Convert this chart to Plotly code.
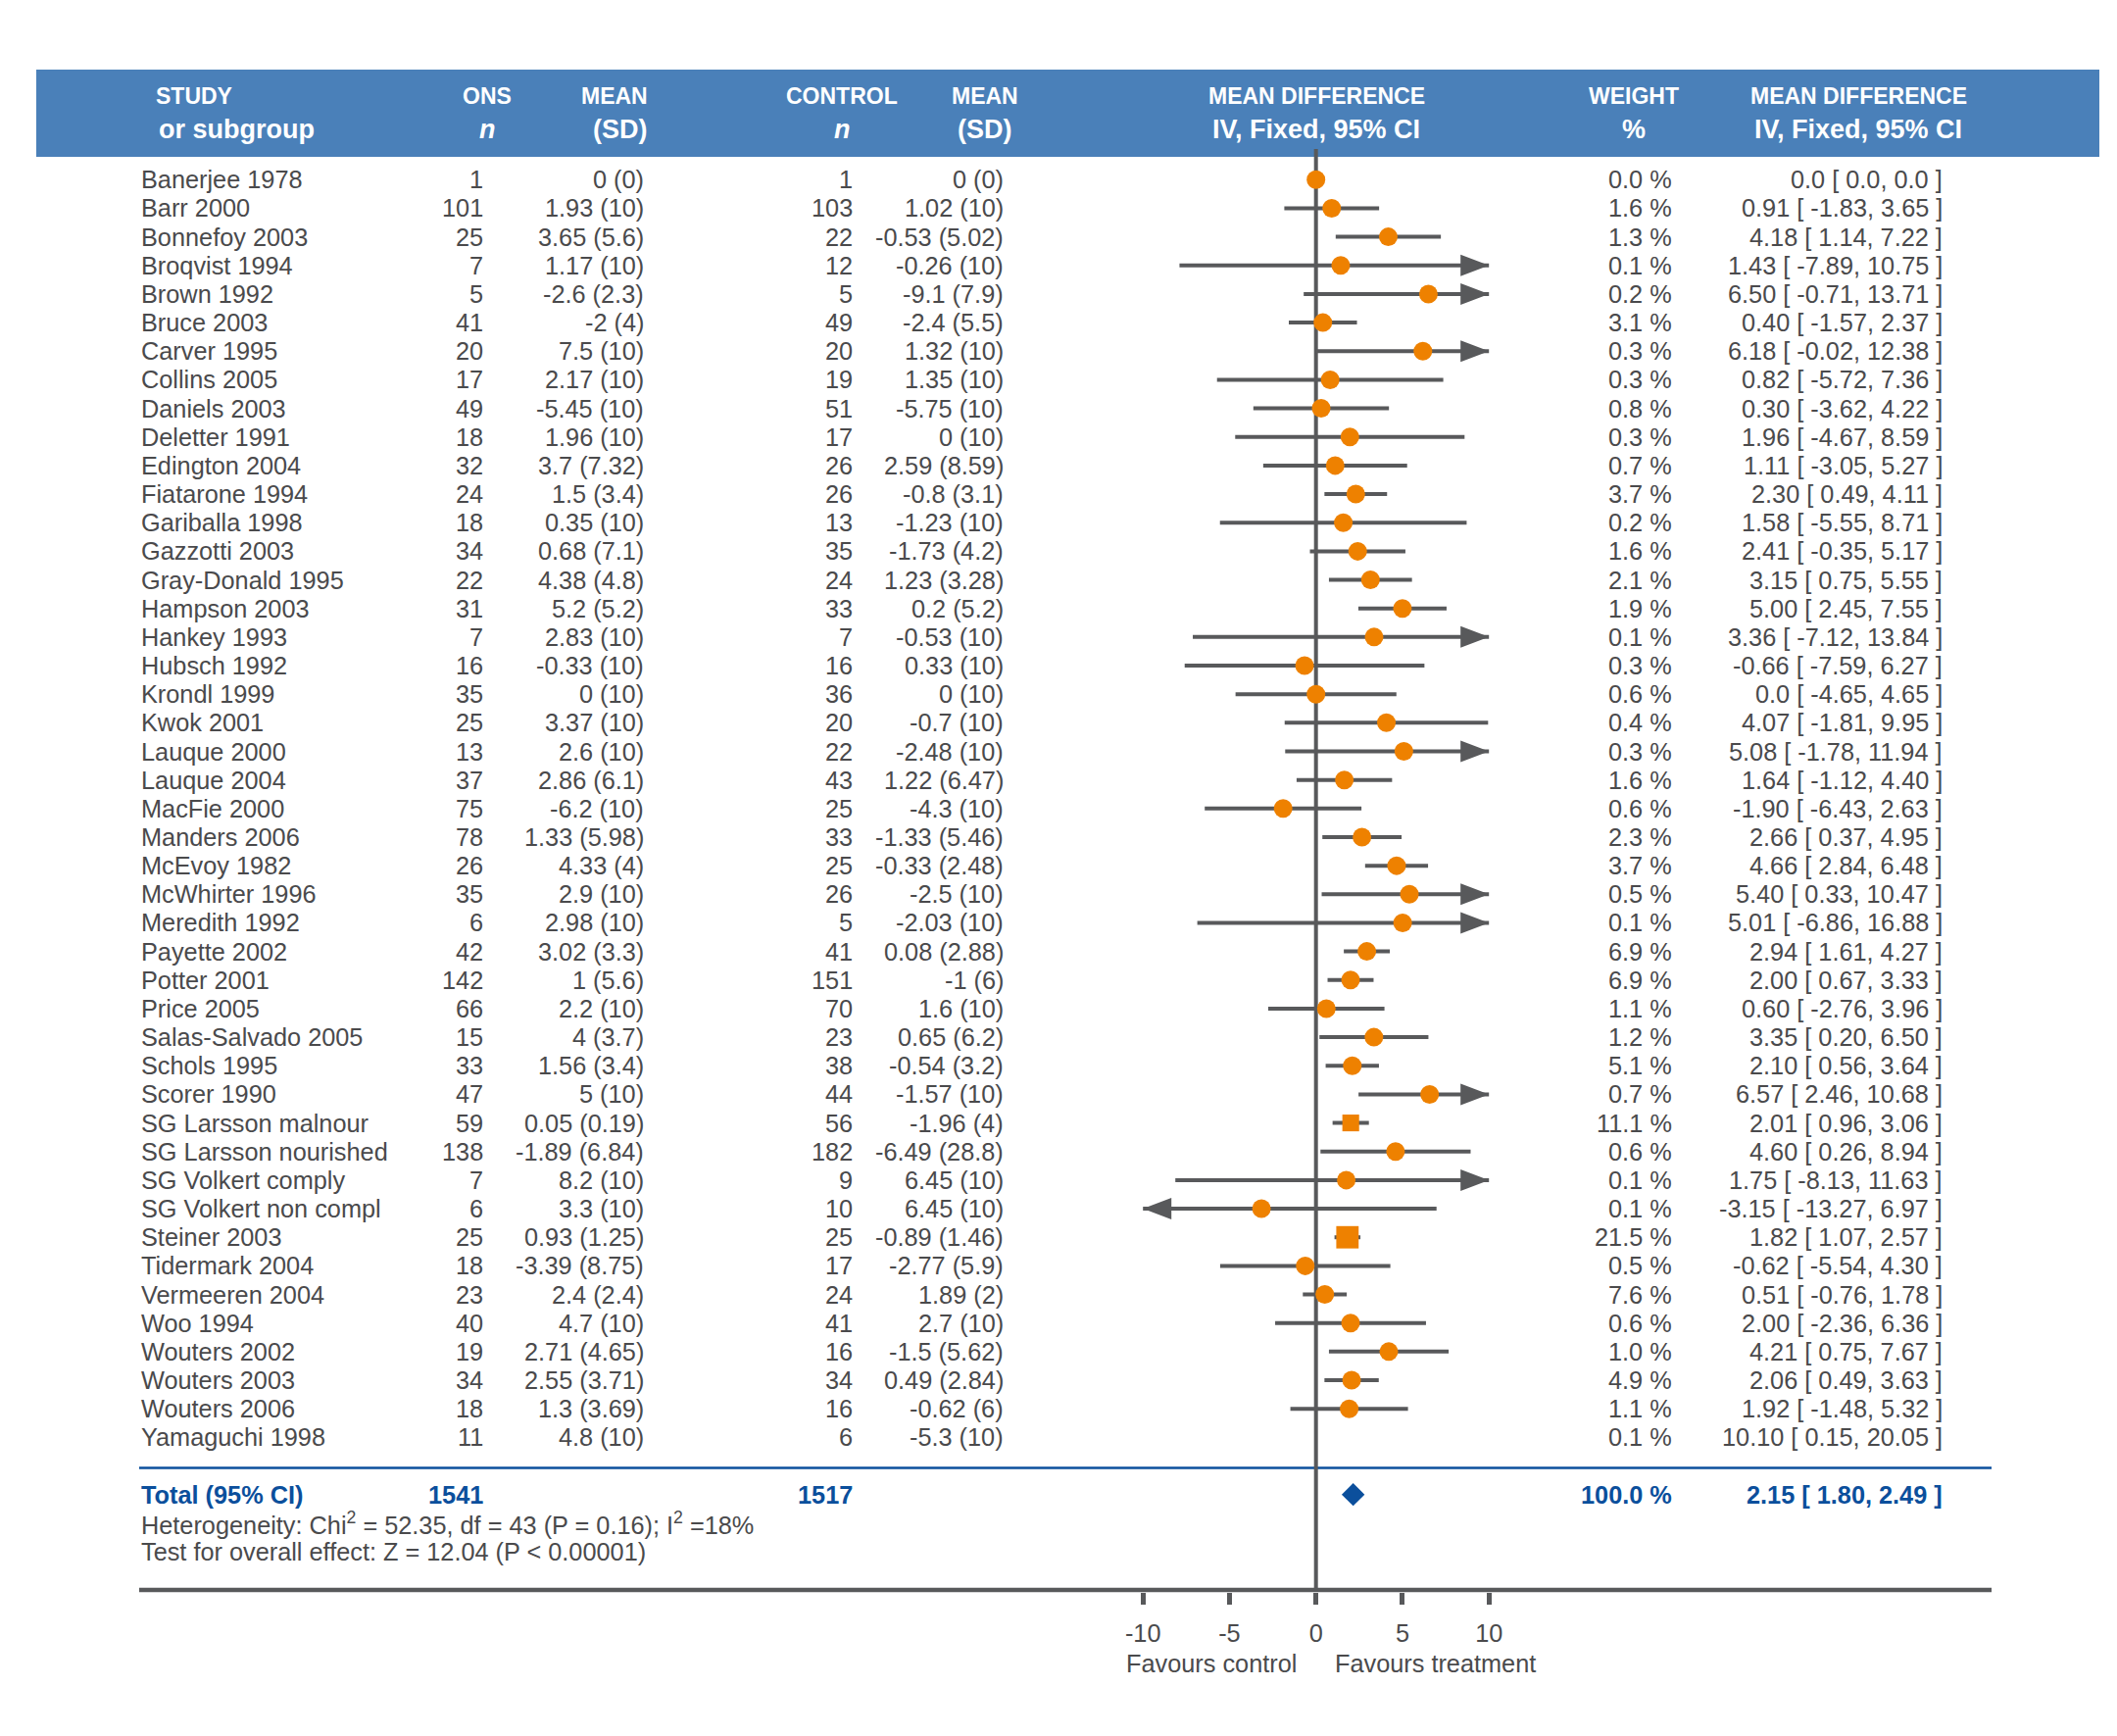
import plotly.graph_objects as go

# ---- data ----
studies = ["Banerjee 1978", "Barr 2000", "Bonnefoy 2003", "Broqvist 1994", "Brown 1992",
           "Bruce 2003", "Carver 1995", "Collins 2005", "Daniels 2003", "Deletter 1991",
           "Edington 2004", "Fiatarone 1994", "Gariballa 1998", "Gazzotti 2003", "Gray-Donald 1995",
           "Hampson 2003", "Hankey 1993", "Hubsch 1992", "Krondl 1999", "Kwok 2001",
           "Lauque 2000", "Lauque 2004", "MacFie 2000", "Manders 2006", "McEvoy 1982",
           "McWhirter 1996", "Meredith 1992", "Payette 2002", "Potter 2001", "Price 2005",
           "Salas-Salvado 2005", "Schols 1995", "Scorer 1990", "SG Larsson malnour", "SG Larsson nourished",
           "SG Volkert comply", "SG Volkert non compl", "Steiner 2003", "Tidermark 2004", "Vermeeren 2004",
           "Woo 1994", "Wouters 2002", "Wouters 2003", "Wouters 2006", "Yamaguchi 1998"]
ons_n = [1, 101, 25, 7, 5, 41, 20, 17, 49, 18, 32, 24, 18, 34, 22, 31, 7, 16, 35, 25, 13, 37, 75,
         78, 26, 35, 6, 42, 142, 66, 15, 33, 47, 59, 138, 7, 6, 25, 18, 23, 40, 19, 34, 18, 11]
ons_mean = [0, 1.93, 3.65, 1.17, -2.6, -2, 7.5, 2.17, -5.45, 1.96, 3.7, 1.5, 0.35, 0.68, 4.38,
            5.2, 2.83, -0.33, 0, 3.37, 2.6, 2.86, -6.2, 1.33, 4.33, 2.9, 2.98, 3.02, 1, 2.2,
            4, 1.56, 5, 0.05, -1.89, 8.2, 3.3, 0.93, -3.39, 2.4, 4.7, 2.71, 2.55, 1.3, 4.8]
ons_sd = [0, 10, 5.6, 10, 2.3, 4, 10, 10, 10, 10, 7.32, 3.4, 10, 7.1, 4.8, 5.2, 10, 10, 10, 10,
          10, 6.1, 10, 5.98, 4, 10, 10, 3.3, 5.6, 10, 3.7, 3.4, 10, 0.19, 6.84, 10, 10, 1.25,
          8.75, 2.4, 10, 4.65, 3.71, 3.69, 10]
ctrl_n = [1, 103, 22, 12, 5, 49, 20, 19, 51, 17, 26, 26, 13, 35, 24, 33, 7, 16, 36, 20, 22, 43,
          25, 33, 25, 26, 5, 41, 151, 70, 23, 38, 44, 56, 182, 9, 10, 25, 17, 24, 41, 16, 34, 16, 6]
ctrl_mean = [0, 1.02, -0.53, -0.26, -9.1, -2.4, 1.32, 1.35, -5.75, 0, 2.59, -0.8, -1.23, -1.73,
             1.23, 0.2, -0.53, 0.33, 0, -0.7, -2.48, 1.22, -4.3, -1.33, -0.33, -2.5, -2.03, 0.08,
             -1, 1.6, 0.65, -0.54, -1.57, -1.96, -6.49, 6.45, 6.45, -0.89, -2.77, 1.89, 2.7,
             -1.5, 0.49, -0.62, -5.3]
ctrl_sd = [0, 10, 5.02, 10, 7.9, 5.5, 10, 10, 10, 10, 8.59, 3.1, 10, 4.2, 3.28, 5.2, 10, 10, 10,
           10, 10, 6.47, 10, 5.46, 2.48, 10, 10, 2.88, 6, 10, 6.2, 3.2, 10, 4, 28.8, 10, 10, 1.46,
           5.9, 2, 10, 5.62, 2.84, 6, 10]
weight = [0.0, 1.6, 1.3, 0.1, 0.2, 3.1, 0.3, 0.3, 0.8, 0.3, 0.7, 3.7, 0.2, 1.6, 2.1, 1.9, 0.1,
          0.3, 0.6, 0.4, 0.3, 1.6, 0.6, 2.3, 3.7, 0.5, 0.1, 6.9, 6.9, 1.1, 1.2, 5.1, 0.7, 11.1,
          0.6, 0.1, 0.1, 21.5, 0.5, 7.6, 0.6, 1.0, 4.9, 1.1, 0.1]
md = [0.0, 0.91, 4.18, 1.43, 6.50, 0.40, 6.18, 0.82, 0.30, 1.96, 1.11, 2.30, 1.58, 2.41, 3.15,
      5.00, 3.36, -0.66, 0.0, 4.07, 5.08, 1.64, -1.90, 2.66, 4.66, 5.40, 5.01, 2.94, 2.00, 0.60,
      3.35, 2.10, 6.57, 2.01, 4.60, 1.75, -3.15, 1.82, -0.62, 0.51, 2.00, 4.21, 2.06, 1.92, 10.10]
ci_lo = [0.0, -1.83, 1.14, -7.89, -0.71, -1.57, -0.02, -5.72, -3.62, -4.67, -3.05, 0.49, -5.55,
         -0.35, 0.75, 2.45, -7.12, -7.59, -4.65, -1.81, -1.78, -1.12, -6.43, 0.37, 2.84, 0.33,
         -6.86, 1.61, 0.67, -2.76, 0.20, 0.56, 2.46, 0.96, 0.26, -8.13, -13.27, 1.07, -5.54,
         -0.76, -2.36, 0.75, 0.49, -1.48, 0.15]
ci_hi = [0.0, 3.65, 7.22, 10.75, 13.71, 2.37, 12.38, 7.36, 4.22, 8.59, 5.27, 4.11, 8.71, 5.17,
         5.55, 7.55, 13.84, 6.27, 4.65, 9.95, 11.94, 4.40, 2.63, 4.95, 6.48, 10.47, 16.88, 4.27,
         3.33, 3.96, 6.50, 3.64, 10.68, 3.06, 8.94, 11.63, 6.97, 2.57, 4.30, 1.78, 6.36, 7.67,
         3.63, 5.32, 20.05]

total_ons_n = 1541
total_ctrl_n = 1517
total_weight = 100.0
total_md, total_lo, total_hi = 2.15, 1.80, 2.49
heterogeneity = "Heterogeneity: Chi<sup>2</sup> = 52.35, df = 43 (P = 0.16); I<sup>2</sup> =18%"
overall_effect = "Test for overall effect: Z = 12.04 (P < 0.00001)"
x_ticks = [-10, -5, 0, 5, 10]
x_tick_text = ["-10", "-5", "0", "5", "10"]
favours = ["Favours control", "Favours treatment"]

# ---- layout constants (pixel positions measured on the 2160x1771 page) ----
W, H = 2160, 1771
OFF = 8                                  # page body margin
FW, FH = W - 2 * OFF, H - 2 * OFF        # figure size
ZERO_PX, PX_PER_UNIT = 1342.7, 17.65     # forest axis
ROW0_PX, ROW_PX = 183.3, 29.16           # first row centre / row pitch
LIM = 10

GRAY = "#58595b"
TEXT = "#4a4a4c"
ORANGE = "#ee8100"
BLUE = "#0b4f9c"
BAND = "#4a80b9"
FONT = "Liberation Sans, Arial, Helvetica, sans-serif"
FS = 25.3


def px(x):
    return (x - OFF) / FW


def row(y_px):
    return (y_px - ROW0_PX) / ROW_PX


def fmt_ci(v):
    return "0.0" if v == 0 else f"{v:.2f}"


n_rows = len(studies)
shown = [i for i in range(n_rows) if -LIM <= md[i] <= LIM]

fig = go.Figure()

# confidence interval lines
lx, ly = [], []
for i in shown:
    lx += [max(ci_lo[i], -LIM), min(ci_hi[i], LIM), None]
    ly += [i, i, None]
fig.add_trace(go.Scatter(x=lx, y=ly, mode="lines", line=dict(color=GRAY, width=4),
                         hoverinfo="skip", showlegend=False))

# arrow heads for intervals running off the scale
a_len = 29 / PX_PER_UNIT
a_half = 11 / ROW_PX
tx, ty = [], []
for i in shown:
    if ci_hi[i] > LIM:
        tx += [LIM - a_len, LIM, LIM - a_len, LIM - a_len, None]
        ty += [i - a_half, i, i + a_half, i - a_half, None]
    if ci_lo[i] < -LIM:
        tx += [-LIM + a_len, -LIM, -LIM + a_len, -LIM + a_len, None]
        ty += [i - a_half, i, i + a_half, i - a_half, None]
fig.add_trace(go.Scatter(x=tx, y=ty, mode="lines", fill="toself", fillcolor=GRAY,
                         line=dict(color=GRAY, width=0), hoverinfo="skip", showlegend=False))

# study estimates: circles, heavy studies as squares
circ = [i for i in shown if weight[i] <= 10]
sq = [i for i in shown if weight[i] > 10]
fig.add_trace(go.Scatter(x=[md[i] for i in circ], y=circ, mode="markers",
                         marker=dict(symbol="circle", size=19, color=ORANGE, opacity=1,
                                     line=dict(width=0)),
                         showlegend=False))
fig.add_trace(go.Scatter(x=[md[i] for i in sq], y=sq, mode="markers",
                         marker=dict(symbol="square", size=[11 + 0.55 * weight[i] for i in sq],
                                     color=ORANGE, opacity=1, line=dict(width=0)),
                         showlegend=False))

# pooled estimate
total_row = n_rows + 1
fig.add_trace(go.Scatter(x=[total_md], y=[total_row], mode="markers",
                         marker=dict(symbol="diamond", size=18, color=BLUE, opacity=1,
                                     line=dict(width=0)),
                         showlegend=False))

ann = []


def txt(x_px, y, s, anchor, color=TEXT, size=FS):
    ann.append(dict(x=px(x_px), xref="paper", y=y, yref="y", text=s, showarrow=False,
                    xanchor=anchor, yanchor="middle",
                    font=dict(family=FONT, size=size, color=color)))


# header
head = [
    (157, 160, "left", "STUDY", "or subgroup"),
    (497, 497, "center", "ONS", "<i>n</i>"),
    (663, 663, "right", "MEAN", "(SD)"),
    (859, 859, "center", "CONTROL", "<i>n</i>"),
    (1005, 1005, "center", "MEAN", "(SD)"),
    (1343, 1343, "center", "MEAN DIFFERENCE", "IV, Fixed, 95% CI"),
    (1667, 1667, "center", "WEIGHT", "%"),
    (1896, 1896, "center", "MEAN DIFFERENCE", "IV, Fixed, 95% CI"),
]
for x1, x2, anc, l1, l2 in head:
    txt(x1, row(98), "<b>" + l1 + "</b>", anc, "white", 23)
    txt(x2, row(132), "<b>" + l2 + "</b>", anc, "white", 27)

# study rows
for i in range(n_rows):
    txt(142, i, studies[i], "left")
    txt(495, i, str(ons_n[i]), "right")
    txt(659, i, f"{ons_mean[i]:g} ({ons_sd[i]:g})", "right")
    txt(872, i, str(ctrl_n[i]), "right")
    txt(1026, i, f"{ctrl_mean[i]:g} ({ctrl_sd[i]:g})", "right")
    txt(1708, i, f"{weight[i]:.1f} %", "right")
    txt(1984, i, f"{fmt_ci(md[i])} [ {fmt_ci(ci_lo[i])}, {fmt_ci(ci_hi[i])} ]", "right")

# totals
txt(142, total_row, "<b>Total (95% CI)</b>", "left", BLUE)
txt(495, total_row, f"<b>{total_ons_n}</b>", "right", BLUE)
txt(872, total_row, f"<b>{total_ctrl_n}</b>", "right", BLUE)
txt(1708, total_row, f"<b>{total_weight:.1f} %</b>", "right", BLUE)
txt(1984, total_row, f"<b>{total_md:.2f} [ {total_lo:.2f}, {total_hi:.2f} ]</b>", "right", BLUE)
txt(142, total_row + 1, heterogeneity, "left")
txt(142, total_row + 2, overall_effect, "left")

# favours labels under the axis
ann.append(dict(x=-1, xref="x", y=row(1697), yref="y", text=favours[0], showarrow=False,
                xanchor="right", yanchor="middle", font=dict(family=FONT, size=FS, color=TEXT)))
ann.append(dict(x=1, xref="x", y=row(1697), yref="y", text=favours[1], showarrow=False,
                xanchor="left", yanchor="middle", font=dict(family=FONT, size=FS, color=TEXT)))

shapes = [
    dict(type="rect", xref="paper", yref="y", x0=px(37), x1=px(2142), y0=row(71), y1=row(160),
         fillcolor=BAND, line=dict(width=0), layer="below"),
    dict(type="line", xref="x", yref="y", x0=0, x1=0, y0=row(152), y1=row(1622),
         line=dict(color=GRAY, width=4), layer="below"),
    dict(type="line", xref="paper", yref="y", x0=px(142), x1=px(2032), y0=row(1497.5),
         y1=row(1497.5), line=dict(color=BLUE, width=2.5), layer="below"),
    dict(type="line", xref="paper", yref="y", x0=px(142), x1=px(2032), y0=row(1622),
         y1=row(1622), line=dict(color=GRAY, width=4.5), layer="below"),
]

fig.update_layout(
    width=FW, height=FH,
    margin=dict(l=0, r=0, t=0, b=0),
    paper_bgcolor="white", plot_bgcolor="white",
    xaxis=dict(range=[(OFF - ZERO_PX) / PX_PER_UNIT, (W - OFF - ZERO_PX) / PX_PER_UNIT],
               domain=[0, 1], anchor="free", position=1 - (1624 - OFF) / FH, side="bottom",
               tickvals=x_ticks, ticktext=x_tick_text, ticks="outside", ticklen=12,
               tickwidth=5, tickcolor=GRAY, showline=False, showgrid=False, zeroline=False,
               tickfont=dict(family=FONT, size=FS, color=TEXT), ticklabelstandoff=8),
    yaxis=dict(range=[row(H - OFF), row(OFF)], domain=[0, 1], showticklabels=False,
               showgrid=False, zeroline=False, showline=False),
    annotations=ann,
    shapes=shapes,
    showlegend=False,
)

fig.write_html("out.html")
